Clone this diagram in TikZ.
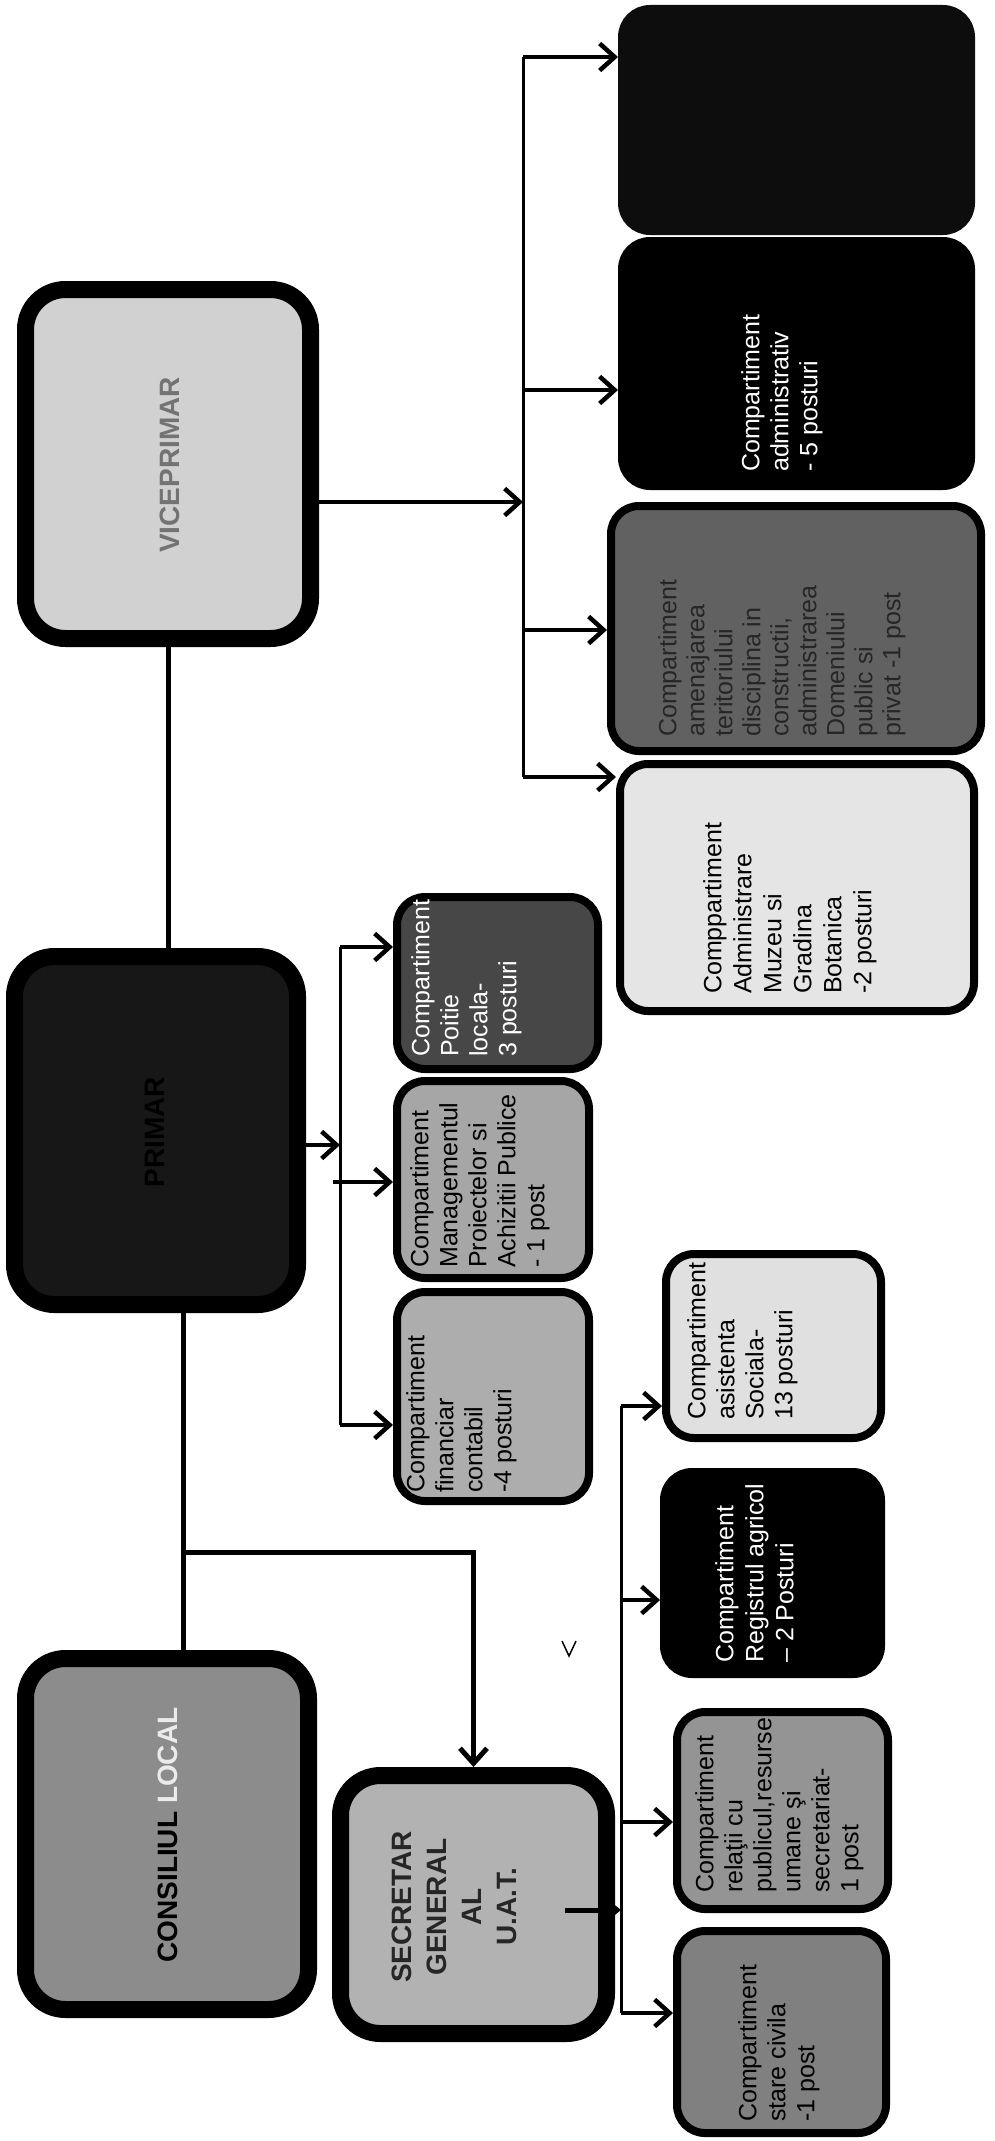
\documentclass[tikz,border=0pt]{standalone}
\usepackage{fontspec}
\setmainfont{Liberation Sans}
\usetikzlibrary{arrows.meta}
\begin{document}
\begin{tikzpicture}[x=1pt,y=-1pt,
  bigbox/.style={draw=black, line width=17pt, rounded corners=40pt, inner sep=0pt},
  smallbox/.style={draw=black, line width=8pt, rounded corners=28pt, inner sep=0pt},
  lbl/.style={rotate=90, anchor=north west, align=left, inner sep=0pt, font=\fontsize{25}{29}\selectfont},
  biglbl/.style={rotate=90, align=center, inner sep=0pt, font=\bfseries\fontsize{28}{35}\selectfont},
  conn/.style={line width=5pt},
  busline/.style={line width=3pt},
  arr/.style={line width=4.5pt, -{Straight Barb[length=15pt,width=27pt]}},
]
\useasboundingbox (0,0) rectangle (995,2141);
\fill[white] (0,0) rectangle (995,2141);

% main boxes
\node[bigbox, fill=black!18, minimum width=285pt, minimum height=349pt] (vice) at (168,464) {};
\node[bigbox, fill=black!91, minimum width=283pt, minimum height=348pt] (primar) at (156,1130.5) {};
\node[bigbox, fill=black!45, minimum width=283pt, minimum height=351pt] (cons) at (167,1834) {};
\node[bigbox, fill=black!30, minimum width=266pt, minimum height=258pt] (secr) at (473.5,1904.5) {};

% compartments
\node[smallbox, fill=black!72, minimum width=201pt, minimum height=172pt] (pol) at (497.5,983) {};
\node[smallbox, fill=black!35, minimum width=192pt, minimum height=197pt] (mgmt) at (493,1179.5) {};
\node[smallbox, fill=black!32, minimum width=192pt, minimum height=209pt] (fin) at (493,1396.5) {};
\node[smallbox, draw=black!95, fill=black!95, minimum width=349pt, minimum height=222pt] (topb) at (796.5,120) {};
\node[smallbox, fill=black, minimum width=349pt, minimum height=245pt] (adm) at (796.5,363.5) {};
\node[smallbox, fill=black!62, minimum width=370pt, minimum height=245pt] (amen) at (796,628.5) {};
\node[smallbox, fill=black!10, minimum width=354pt, minimum height=247pt] (muz) at (797,887.5) {};
\node[smallbox, fill=black!12, minimum width=215pt, minimum height=184pt] (asist) at (773.5,1346) {};
\node[smallbox, fill=black, minimum width=217pt, minimum height=202pt] (reg) at (772.5,1573) {};
\node[smallbox, fill=black!42, minimum width=211pt, minimum height=197pt] (rel) at (782.5,1810.5) {};
\node[smallbox, fill=black!50, minimum width=209pt, minimum height=202pt] (stare) at (781.5,2032) {};

% labels
\node[biglbl, text=black!55] (tvice) at (170,465) {VICEPRIMAR};
\node[biglbl, text=black] (tprim) at (155,1132) {PRIMAR};
\node[biglbl, text=black] (tcons) at (168,1835) {CONSILIUL \textcolor{black!8}{LOCAL}};
\node[biglbl, text=black!85] (tsecr) at (454,1907) {SECRETAR\\GENERAL\\AL\\U.A.T.};

\node[lbl, text=white] (tpol) at (411,1057) {Compartiment\\Poitie\\locala-\\3 posturi};
\node[lbl] (tmgmt) at (410,1268) {Compartiment\\Managementul\\Proiectelor si\\Achizitii Publice\\- 1 post};
\node[lbl] (tfin) at (406,1493) {Compartiment\\financiar\\contabil\\-4 posturi};
\node[lbl, text=white] (tadm) at (741,472) {Compartiment\\administrativ\\- 5 posturi};
\node[lbl, text=black!85, font=\fontsize{25}{28}\selectfont] (tamen) at (658,737) {Compartiment\\amenajarea\\teritoriului\\disciplina in\\constructii,\\administrarea\\Domeniului\\public si\\privat -1 post};
\node[lbl, font=\fontsize{25}{30}\selectfont] (tmuz) at (703,994) {Comppartiment\\Administrare\\Muzeu si\\Gradina\\Botanica\\-2 posturi};
\node[lbl] (tasist) at (687,1420) {Compartiment\\asistenta\\Sociala-\\13 posturi};
\node[lbl, text=white, font=\fontsize{25}{30}\selectfont] (treg) at (715,1663) {Compartiment\\Registrul agricol\\– 2 Posturi};
\node[lbl] (trel) at (695,1893) {Compartiment\\relaţii cu\\publicul,resurse\\umane şi\\secretariat-\\1 post};
\node[lbl] (tstare) at (738,2122) {Compartiment\\stare civila\\-1 post};

% bus coordinates
\coordinate (j1) at (183,1552);
\coordinate (vb) at (523,502);
\coordinate (vbt) at (523,57);
\coordinate (vba) at (523,390);
\coordinate (vbm) at (523,630);
\coordinate (vbb) at (523,777);
\coordinate (pb) at (340,1145);
\coordinate (pbt) at (340,947);
\coordinate (pbm) at (333,1182);
\coordinate (pbb) at (340,1425);
\coordinate (sstub) at (565,1910);
\coordinate (sbus) at (621,1910);
\coordinate (sbt) at (621,1406);
\coordinate (sbr) at (621,1600);
\coordinate (sbl) at (621,1822);
\coordinate (sbb) at (621,2013);

% main spine
\draw[conn] (vice.south) -- (vice.south |- primar.north);
\draw[conn] (primar.south -| j1) -- (cons.north -| j1);
\draw[arr, line width=5pt] (j1) -| (secr.north);

% viceprimar branch
\draw[arr] (vice.east |- vb) -- (vb);
\draw[busline] (vbt) -- (vbb);
\draw[arr] (vbt) -- (topb.west |- vbt);
\draw[arr] (vba) -- (adm.west |- vba);
\draw[arr] (vbm) -- (amen.west |- vbm);
\draw[arr] (vbb) -- (muz.west |- vbb);

% primar branch
\draw[arr] (primar.east |- pb) -- (pb);
\draw[busline] (pbt) -- (pbb);
\draw[arr] (pbt) -- (pol.west |- pbt);
\draw[arr] (pbm) -- (mgmt.west |- pbm);
\draw[arr] (pbb) -- (fin.west |- pbb);

% secretar branch
\draw[line width=5pt, -{Triangle[length=14pt,width=22pt]}] (sstub) -- (sbus);
\draw[busline] (sbt) -- (sbb);
\draw[arr] (sbt) -- (asist.west |- sbt);
\draw[arr] (sbr) -- (reg.west |- sbr);
\draw[arr] (sbl) -- (rel.west |- sbl);
\draw[arr] (sbb) -- (stare.west |- sbb);

% stray small arrowhead mark
\draw[line width=1.5pt] (562,1641) -- (569,1656) -- (576,1641);
\end{tikzpicture}
\end{document}
